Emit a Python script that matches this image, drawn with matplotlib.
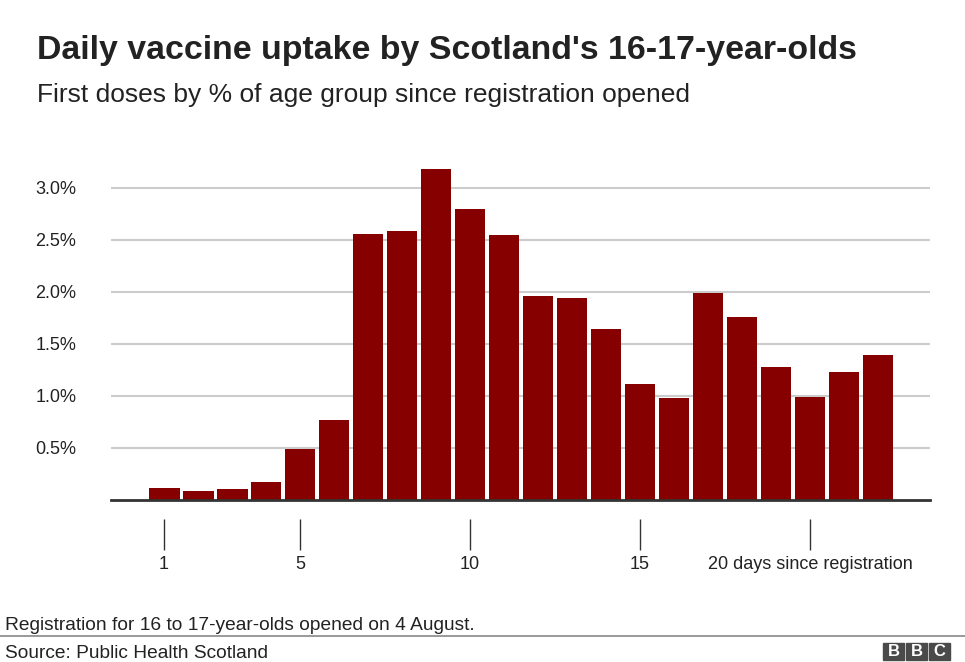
import matplotlib
matplotlib.use("Agg")
import matplotlib.pyplot as plt
from matplotlib.patches import Rectangle

plt.rcParams['font.family'] = ['Liberation Sans', 'DejaVu Sans']

# first doses, % of 16-17 age group, by day since registration opened
days = list(range(1, 23))
uptake = [0.12, 0.09, 0.11, 0.17, 0.49, 0.77, 2.56, 2.59, 3.18, 2.80, 2.55,
          1.96, 1.94, 1.64, 1.12, 0.98, 1.99, 1.76, 1.28, 0.99, 1.23, 1.39]
xticks = [1, 5, 10, 15, 20]
xtick_labels = ["1", "5", "10", "15", "20 days since registration"]
yticks = [0.5, 1.0, 1.5, 2.0, 2.5, 3.0]
ytick_labels = ["0.5%", "1.0%", "1.5%", "2.0%", "2.5%", "3.0%"]

W, H = 965, 662
fig = plt.figure(figsize=(W / 100, H / 100), dpi=100)

# axes box in pixel terms -> figure fraction
left, right, bottom_px, top_px = 111, 930, 500, 156.8
ax = fig.add_axes([left / W, 1 - bottom_px / H, (right - left) / W, (bottom_px - top_px) / H])

ax.bar(days, uptake, width=0.91, color="#870000", zorder=3)
ax.set_xlim(-0.56, 23.53)
ax.set_ylim(0, 3.3)

ax.set_yticks(yticks)
ax.set_yticklabels(ytick_labels)
ax.yaxis.grid(True, color="#cccccc", linewidth=1.5, zorder=0)
ax.axhline(0, color="#333333", linewidth=2, zorder=4, clip_on=False)

ax.set_xticks(xticks)
ax.set_xticklabels(xtick_labels)

for s in ["top", "right", "left"]:
    ax.spines[s].set_visible(False)
ax.spines["bottom"].set_position(("outward", 13.5))
ax.spines["bottom"].set_visible(False)

ax.tick_params(axis="y", length=0, pad=25, labelsize=13, labelcolor="#222222")
ax.tick_params(axis="x", length=22, width=1, color="#333333", direction="out",
               pad=4.5, labelsize=13, labelcolor="#222222")

# titles
fig.text(37 / W, 1 - 50 / H, "Daily vaccine uptake by Scotland's 16-17-year-olds",
         fontsize=24.4, fontweight="bold", color="#222222", va="center", ha="left")
fig.text(37 / W, 1 - 95 / H, "First doses by % of age group since registration opened",
         fontsize=19, color="#222222", va="center", ha="left")

# footer
fig.text(5 / W, 1 - 626 / H, "Registration for 16 to 17-year-olds opened on 4 August.",
         fontsize=13.8, color="#222222", va="center", ha="left")
fig.add_artist(plt.Line2D([0, 1], [1 - 635.5 / H, 1 - 635.5 / H], color="#888888", linewidth=1.2))
fig.text(5 / W, 1 - 654 / H, "Source: Public Health Scotland",
         fontsize=13.8, color="#222222", va="center", ha="left")

# BBC blocks
for i, letter in enumerate("BBC"):
    x0 = 883 + i * 23
    fig.add_artist(Rectangle((x0 / W, 1 - 660 / H), 21 / W, 17 / H,
                             transform=fig.transFigure, color="#4a4a4a"))
    fig.text((x0 + 10.5) / W, 1 - 651.5 / H, letter, fontsize=12, fontweight="bold",
             color="white", ha="center", va="center")

fig.savefig("out.png", dpi=100)
